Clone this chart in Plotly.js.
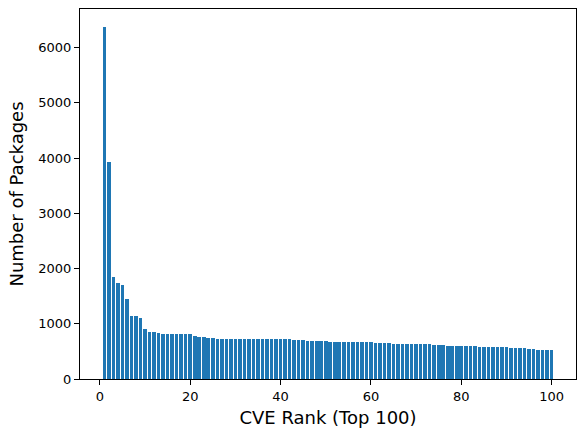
<!DOCTYPE html>
<html>
<head>
<meta charset="utf-8">
<script src="https://cdn.plot.ly/plotly-3.0.1.min.js"></script>
<style>
  html, body { margin: 0; padding: 0; background: #fff; }
  #graph { width: 585px; height: 437px; }
</style>
</head>
<body>
<div id="graph"></div>
<script>
// number of packages affected, per CVE rank
var packages = [
  6380, 3920, 1840, 1740, 1710, 1440, 1145, 1145, 1109, 909,
  855, 855, 836, 818, 818, 818, 818, 818, 818, 818,
  782, 764, 764, 745, 745, 727, 727, 727, 727, 727,
  727, 727, 727, 727, 727, 727, 727, 727, 727, 727,
  727, 727, 709, 709, 709, 691, 691, 691, 691, 691,
  673, 673, 673, 673, 673, 673, 673, 673, 673, 673,
  655, 655, 655, 655, 636, 636, 636, 636, 636, 636,
  636, 636, 636, 618, 618, 618, 600, 600, 600, 600,
  600, 600, 600, 582, 582, 582, 582, 582, 582, 582,
  564, 564, 564, 564, 545, 545, 527, 527, 527, 527
];
var ranks = [];
for (var i = 0; i < packages.length; i++) {
  ranks[i] = i + 1;
}
var xTicks = [0, 20, 40, 60, 80, 100];
var yTicks = [0, 1000, 2000, 3000, 4000, 5000, 6000];

var bars = {
  type: 'bar',
  x: ranks,
  y: packages,
  width: 0.8,
  marker: { color: '#1f77b4', line: { width: 0 } },
  hoverinfo: 'x+y'
};

var axisCommon = {
  showgrid: false,
  zeroline: false,
  showline: true,
  linecolor: 'black',
  linewidth: 1,
  mirror: true,
  ticks: 'outside',
  ticklen: 5,
  tickwidth: 1,
  tickcolor: 'black',
  tickfont: { family: 'DejaVu Sans', size: 13, color: 'black' }
};

var layout = {
  width: 585,
  height: 437,
  margin: { l: 80, r: 9, t: 9, b: 58 },
  paper_bgcolor: 'white',
  plot_bgcolor: 'white',
  showlegend: false,
  bargap: 0,
  xaxis: Object.assign({}, axisCommon, {
    range: [-4.39, 105.39],
    tickvals: xTicks,
    title: { text: 'CVE Rank (Top 100)', font: { family: 'DejaVu Sans', size: 18, color: 'black' }, standoff: 8 }
  }),
  yaxis: Object.assign({}, axisCommon, {
    range: [0, 6699],
    tickvals: yTicks,
    title: { text: 'Number of Packages', font: { family: 'DejaVu Sans', size: 18, color: 'black' }, standoff: 10 }
  })
};

Plotly.newPlot('graph', [bars], layout, { displayModeBar: false, staticPlot: true });
</script>
</body>
</html>
